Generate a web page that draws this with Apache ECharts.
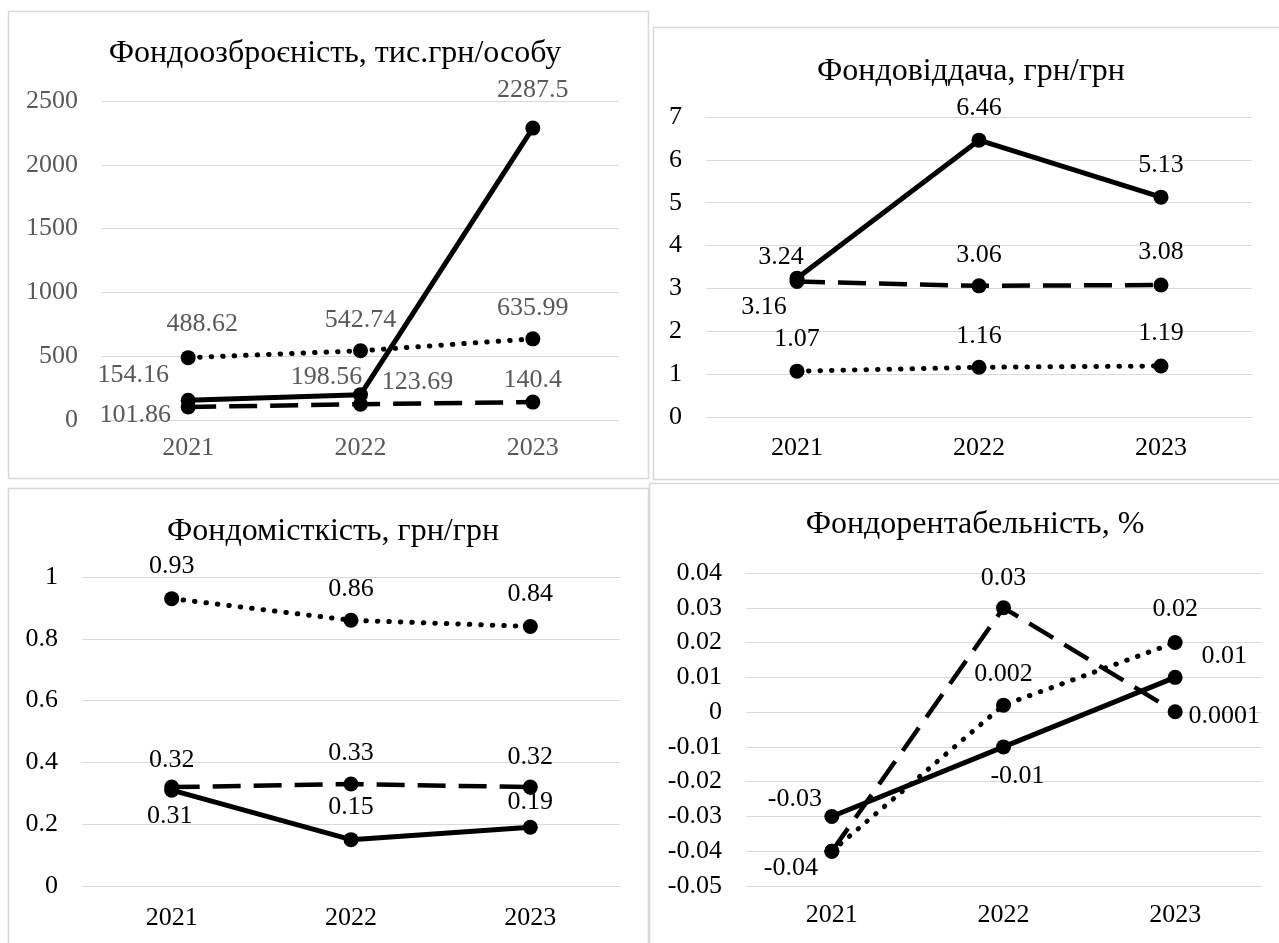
<!DOCTYPE html>
<html>
<head>
<meta charset="utf-8">
<script src="https://cdn.jsdelivr.net/npm/echarts@6/dist/echarts.min.js"></script>
<style>
html,body{margin:0;padding:0;background:#fff;}
#c{width:1279px;height:943px;}
</style>
</head>
<body>
<div id="c"></div>
<script>
// ---------- data ----------
const years = ['2021', '2022', '2023'];

const title1 = 'Фондоозброєність, тис.грн/особу';
const p1Solid  = [154.16, 198.56, 2287.5];
const p1Dotted = [488.62, 542.74, 635.99];
const p1Dashed = [101.86, 123.69, 140.4];
const p1Ticks  = [0, 500, 1000, 1500, 2000, 2500];

const title2 = 'Фондовіддача, грн/грн';
const p2Solid  = [3.24, 6.46, 5.13];
const p2Dashed = [3.16, 3.06, 3.08];
const p2Dotted = [1.07, 1.16, 1.19];
const p2Ticks  = [0, 1, 2, 3, 4, 5, 6, 7];

const title3 = 'Фондомісткість, грн/грн';
const p3Dotted = [0.93, 0.86, 0.84];
const p3Dashed = [0.32, 0.33, 0.32];
const p3Solid  = [0.31, 0.15, 0.19];
const p3Ticks  = [0, 0.2, 0.4, 0.6, 0.8, 1];

const title4 = 'Фондорентабельність, %';
const p4Solid  = [-0.03, -0.01, 0.01];
const p4Dashed = [-0.04, 0.03, 0.0001];
const p4Dotted = [-0.04, 0.002, 0.02];
const p4Ticks  = [-0.05, -0.04, -0.03, -0.02, -0.01, 0, 0.01, 0.02, 0.03, 0.04];

// ---------- layout / style (not data) ----------
const FONT = "'Liberation Serif', 'Times New Roman', serif";
const FS = 26;
const GRID_C = '#d9d9d9';
const grids = [
  {left: 102, top: 101, width: 517, height: 319},
  {left: 706, top: 117, width: 546, height: 300},
  {left: 82,  top: 577, width: 538, height: 309},
  {left: 746, top: 573, width: 515, height: 313}
];
const xMargins = [15, 18, 19, 16];
const panelColors = ['#595959', '#000', '#000', '#000'];
const titlePos = [[330, 52, title1], [966, 70, title2], [328, 530, title3], [970, 523, title4]];

const LS = {
  solid:  {type: 'solid', width: 5, cap: 'round', join: 'round'},
  dashed: {type: [28, 13], width: 4.5, cap: 'butt', join: 'round'},
  dotted: {type: [0.5, 11], width: 5, cap: 'round', join: 'round'}
};

function series(gi, values, style, offsets, hide) {
  return {
    type: 'line',
    xAxisIndex: gi, yAxisIndex: gi,
    symbol: 'circle', symbolSize: 15,
    lineStyle: Object.assign({color: '#000'}, LS[style]),
    itemStyle: {color: '#000'},
    label: {
      show: true, position: 'inside', align: 'center', verticalAlign: 'middle',
      fontFamily: FONT, fontSize: FS, color: panelColors[gi],
      formatter: p => String(p.value)
    },
    data: values.map((v, i) => ({value: v,
      label: {offset: offsets[i], show: !(hide && hide[i])}})),
    animation: false
  };
}

function yAxis(gi, ticks) {
  return {
    type: 'value', gridIndex: gi,
    min: ticks[0], max: ticks[ticks.length - 1], interval: ticks[1] - ticks[0],
    axisLine: {show: false}, axisTick: {show: false},
    splitLine: {show: true, lineStyle: {color: GRID_C, width: 1}},
    axisLabel: {fontFamily: FONT, fontSize: FS, color: panelColors[gi], margin: 24,
      formatter: v => String(Math.round(v * 10000) / 10000)}
  };
}
function xAxis(gi) {
  return {
    type: 'category', gridIndex: gi, data: years, boundaryGap: true,
    axisLine: {show: false}, axisTick: {show: false}, splitLine: {show: false},
    axisLabel: {fontFamily: FONT, fontSize: FS, color: panelColors[gi], margin: xMargins[gi]}
  };
}

const borders = [
  [8.5, 11.5, 640, 467],
  [653.5, 27.5, 640, 452],
  [8.5, 488.5, 640, 470],
  [649.5, 483.5, 640, 470]
].map(b => ({type: 'rect', shape: {x: b[0], y: b[1], width: b[2], height: b[3]},
  style: {fill: null, stroke: GRID_C, lineWidth: 1.5}, silent: true, z: -1}));

const option = {
  backgroundColor: '#fff',
  animation: false,
  graphic: borders,
  title: titlePos.map(t => ({
    text: t[2], left: t[0], top: t[1] - 19, textAlign: 'center',
    textStyle: {fontFamily: FONT, fontSize: 32, fontWeight: 'normal', color: '#000'}
  })),
  grid: grids,
  xAxis: [0, 1, 2, 3].map(xAxis),
  yAxis: [yAxis(0, p1Ticks), yAxis(1, p2Ticks), yAxis(2, p3Ticks), yAxis(3, p4Ticks)],
  series: [
    series(0, p1Dashed, 'dashed', [[-53, 8], [57, -22], [0, -22]]),
    series(0, p1Dotted, 'dotted', [[14, -33], [0, -31], [0, -31]]),
    series(0, p1Solid,  'solid',  [[-55, -25], [-34, -17], [0, -38]]),

    series(1, p2Dotted, 'dotted', [[0, -32], [0, -31], [0, -33]]),
    series(1, p2Dashed, 'dashed', [[-33, 26], [0, -31], [0, -33]]),
    series(1, p2Solid,  'solid',  [[-16, -21], [0, -32], [0, -32]]),

    series(2, p3Dotted, 'dotted', [[0, -32], [0, -31], [0, -32]]),
    series(2, p3Dashed, 'dashed', [[0, -27], [0, -31], [0, -30]]),
    series(2, p3Solid,  'solid',  [[-2, 26], [0, -32], [0, -25]]),

    series(3, p4Dashed, 'dashed', [[-41, 17], [0, -30], [49, 4]], [true, false, false]),
    series(3, p4Dotted, 'dotted', [[-41, 17], [0, -31], [0, -33]]),
    series(3, p4Solid,  'solid',  [[-37, -17], [14, 29], [49, -21]])
  ]
};

const chart = echarts.init(document.getElementById('c'), null, {renderer: 'canvas'});
chart.setOption(option);
</script>
</body>
</html>
